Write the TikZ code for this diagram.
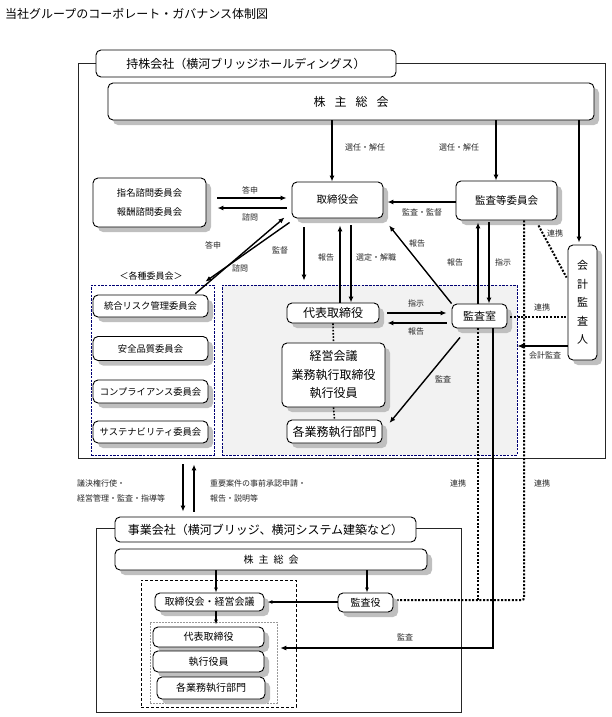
\documentclass[tikz,border=0pt]{standalone}
\usepackage{fontspec}
\newfontfamily\jp{Noto Sans CJK JP}
\usetikzlibrary{arrows.meta,shadows}
\begin{document}
\begin{tikzpicture}[x=1pt,y=-1pt,font=\jp,
  shd/.style={drop shadow={shadow xshift=5pt,shadow yshift=-5pt,fill=black!25,opacity=1}},
  box/.style={draw,line width=0.9pt,rounded corners=5pt,fill=white,align=center,inner sep=0pt,shd},
  tabbox/.style={draw,line width=0.9pt,rounded corners=5pt,fill=white,align=center,inner sep=0pt},
  region/.style={draw=blue!45!black,dash pattern=on 2.5pt off 1.2pt,line width=0.7pt,inner sep=0pt},
  outer/.style={draw=black!85,line width=0.9pt,inner sep=0pt},
  arr/.style={line width=1.4pt,-{Latex[length=6pt,width=5pt]}},
  arrs/.style={line width=1.1pt,-{Latex[length=5pt,width=4pt]}},
  dotl/.style={line width=2pt,dash pattern=on 2pt off 1.6pt},
  dott/.style={line width=1.6pt,dash pattern=on 1.6pt off 1.6pt},
  lbl/.style={font=\fontsize{8}{10}\selectfont\jp,text=black!85,inner sep=0pt},
  f12/.style={font=\fontsize{12}{18.5}\selectfont\jp},
  f11/.style={font=\fontsize{11}{18.5}\selectfont\jp},
  f10/.style={font=\fontsize{10.5}{18}\selectfont\jp},
  f9/.style={font=\fontsize{9.3}{19}\selectfont\jp},
  f10s/.style={font=\fontsize{10}{12}\selectfont\jp}
]
\useasboundingbox (0,0) rectangle (612,717);

% title
\node[anchor=west,inner sep=0pt,font=\fontsize{12}{14}\selectfont\jp] (title) at (5,14) {当社グループのコーポレート・ガバナンス体制図};

% ---------------- holding company ----------------
\node[outer,minimum width=527pt,minimum height=395pt] (holdOuter) at (341.5,260.5) {};
\node[tabbox,f12,minimum width=300pt,minimum height=27pt] (tabH) at (246,63.5) {持株会社（横河ブリッジホールディングス）};
\node[box,f12,minimum width=486pt,minimum height=37pt] (gmsH) at (351,101.5) {株\hspace{9pt}主\hspace{9pt}総\hspace{9pt}会};

\node[region,fill=white,minimum width=123pt,minimum height=170pt] (leftRegion) at (152.5,370) {};
\node[region,fill=black!5,minimum width=295pt,minimum height=170pt] (greyRegion) at (369.5,370) {};

\node[box,f10,minimum width=91pt,minimum height=36pt] (torishimari) at (337.5,200) {取締役会};
\node[box,f10,minimum width=101pt,minimum height=39pt] (kansaIin) at (506.5,200.5) {監査等委員会};
\node[box,f9,minimum width=113pt,minimum height=49pt] (shimon) at (149.5,202.5) {指名諮問委員会\\報酬諮問委員会};
\node[box,f11,minimum width=29pt,minimum height=115pt] (kaikei) at (582.5,302.5) {会\\計\\監\\査\\人};

\node[inner sep=0pt,font=\fontsize{9}{10}\selectfont\jp] (kakushu) at (151,276) {＜各種委員会＞};
\node[box,f9,minimum width=115pt,minimum height=22pt] (risk) at (150.5,306) {統合リスク管理委員会};
\node[box,f9,minimum width=115pt,minimum height=24pt] (anzen) at (150.5,348.5) {安全品質委員会};
\node[box,f9,minimum width=115pt,minimum height=23pt] (comp) at (150.5,391.5) {コンプライアンス委員会};
\node[box,f9,minimum width=115pt,minimum height=22pt] (sust) at (150.5,432) {サステナビリティ委員会};

\node[box,f12,minimum width=92pt,minimum height=20pt] (daihyo) at (333,313) {代表取締役};
\node[box,f12,minimum width=103pt,minimum height=64pt] (keiei) at (333.5,375) {経営会議\\業務執行取締役\\執行役員};
\node[box,f12,minimum width=95pt,minimum height=23pt] (kakugyo) at (334.5,431.5) {各業務執行部門};
\node[box,f11,minimum width=55pt,minimum height=24pt] (kansashitsu) at (479.5,316) {監査室};

% ---------------- operating companies ----------------
\node[outer,minimum width=365pt,minimum height=184pt] (subOuter) at (278.5,620) {};
\node[tabbox,f12,minimum width=301pt,minimum height=25pt] (tabS) at (265.5,529.5) {事業会社（横河ブリッジ、横河システム建築など）};
\node[box,f10s,minimum width=312pt,minimum height=21pt] (gmsS) at (271,559.5) {株\hspace{5pt}主\hspace{5pt}総\hspace{5pt}会};
\node[draw,line width=0.9pt,dash pattern=on 3pt off 2pt,inner sep=0pt,minimum width=155pt,minimum height=127pt] (dashedBig) at (218.5,643.5) {};
\node[box,f10s,minimum width=109pt,minimum height=18pt] (torikei) at (209.5,602) {取締役会・経営会議};
\node[draw=black!40,line width=0.5pt,dash pattern=on 2pt off 1pt,fill=white,inner sep=0pt,minimum width=127pt,minimum height=81pt] (greyInner) at (213.5,662.5) {};
\node[box,f10s,minimum width=111pt,minimum height=20pt] (daihyoS) at (208.5,637) {代表取締役};
\node[box,f10s,minimum width=111pt,minimum height=21pt] (shikkoS) at (208.5,661.5) {執行役員};
\node[box,f10s,minimum width=108pt,minimum height=22pt] (kakugyoS) at (211,688) {各業務執行部門};
\node[box,f10s,minimum width=55pt,minimum height=19pt] (kansayaku) at (365.5,602.5) {監査役};

% ---------------- connectors (holding) ----------------
\draw[arr] (332,0 |- gmsH.south) -- (332,0 |- torishimari.north);
\draw[arr] (496,0 |- gmsH.south) -- (496,0 |- kansaIin.north);
\draw[arr,shorten >=2pt] (579,0 |- gmsH.south) -- (579,0 |- kaikei.north);
\draw[arr,shorten >=4pt] (kansaIin.west |- 0,202) -- (torishimari.east |- 0,202);
\draw[arr,shorten <=11pt,shorten >=5pt] (shimon.east |- 0,198) -- (torishimari.west |- 0,198);
\draw[arr,shorten <=5pt,shorten >=11pt] (torishimari.west |- 0,208) -- (shimon.east |- 0,208);
\draw[arr] ([xshift=-19pt,yshift=-9pt]leftRegion.north east) -- ([xshift=-7pt,yshift=1pt]torishimari.south west);
\draw[arr] ([xshift=-2pt,yshift=-4pt]torishimari.south west) -- ([xshift=-9pt,yshift=3pt]leftRegion.north east);
\draw[arr,shorten <=9pt,shorten >=4pt] (304,0 |- torishimari.south) -- (304,0 |- greyRegion.north);
\draw[arr,shorten >=7pt] (340,0 |- daihyo.north) -- (340,0 |- torishimari.south);
\draw[arr,shorten <=7pt] (351,0 |- torishimari.south) -- (351,0 |- daihyo.north);
\draw[arr,shorten >=9pt] (kansashitsu.north west) -- (torishimari.south east);
\draw[arr,shorten >=2pt] (478,0 |- kansashitsu.north) -- (478,0 |- kansaIin.south);
\draw[arr,shorten <=2pt] (489,0 |- kansaIin.south) -- (489,0 |- kansashitsu.north);
\draw[arr,shorten <=8pt,shorten >=5pt] (daihyo.east |- 0,313) -- (kansashitsu.west |- 0,313);
\draw[arr,shorten <=5pt,shorten >=8pt] (kansashitsu.west |- 0,323) -- (daihyo.east |- 0,323);
\draw[arr] ([xshift=-19.5pt,yshift=-9pt]kansashitsu.south) -- ([xshift=7pt,yshift=8.5pt]kakugyo.east);
\draw[arr] (kaikei.west |- 0,346) -- (greyRegion.east |- 0,346);
\draw[dotl] ([xshift=-19pt,yshift=-5pt]kansaIin.south east) -- ([xshift=-1pt,yshift=-33pt]kaikei.north west);
\draw[dotl,shorten <=3pt] (kansashitsu.east |- 0,317) -- (kaikei.west |- 0,317);
\draw[dott] (daihyo.south) -- (keiei.north);
\draw[dott] (keiei.south) -- (kakugyo.north);

% between companies
\draw[arr,shorten <=6pt,shorten >=5pt] (183,0 |- holdOuter.south) -- (183,0 |- tabS.north);
\draw[arr,shorten <=5pt,shorten >=6pt] (194,0 |- tabS.north) -- (194,0 |- holdOuter.south);

% long connectors
\coordinate (uc) at (524,600);
\draw[dotl,rounded corners=2pt,shorten >=4pt] (524,0 |- kansaIin.south) -- (uc) -- (kansayaku.east |- uc);
\draw[dotl] (478,0 |- kansashitsu.south) -- (478,0 |- uc);
\coordinate (wc) at (493,648);
\draw[arr,shorten >=3pt] (493,0 |- kansashitsu.south) -- (wc) -- (greyInner.east |- wc);

% lower connectors
\draw[arrs] (216,0 |- gmsS.south) -- (216,0 |- torikei.north);
\draw[arrs,shorten >=2pt] (216,0 |- torikei.south) -- (216,0 |- daihyoS.north);
\draw[arrs] (367,0 |- gmsS.south) -- (367,0 |- kansayaku.north);
\draw[arrs,shorten >=3pt] (kansayaku.west |- 0,602) -- (torikei.east |- 0,602);

% ---------------- labels ----------------
\node[lbl] (l1) at (365,147) {選任・解任};
\node[lbl] (l2) at (459,147) {選任・解任};
\node[lbl] (l3) at (250,190) {答申};
\node[lbl] (l4) at (250,217) {諮問};
\node[lbl] (l5) at (213,245) {答申};
\node[lbl] (l6) at (280,250) {監督};
\node[lbl] (l7) at (240,268) {諮問};
\node[lbl] (l8) at (326,257) {報告};
\node[lbl] (l9) at (376,257) {選定・解職};
\node[lbl] (l10) at (422,212) {監査・監督};
\node[lbl] (l11) at (417,243) {報告};
\node[lbl] (l12) at (455,262) {報告};
\node[lbl] (l13) at (503,262) {指示};
\node[lbl] (l14) at (555,233) {連携};
\node[lbl] (l15) at (416,303) {指示};
\node[lbl] (l16) at (416,331) {報告};
\node[lbl] (l17) at (542,307) {連携};
\node[lbl] (l18) at (545,355) {会計監査};
\node[lbl] (l19) at (443,379) {監査};
\node[lbl] (l20) at (458,483) {連携};
\node[lbl] (l21) at (542,483) {連携};
\node[lbl] (l22) at (405,637) {監査};
\node[lbl,anchor=west] (l23) at (77,483) {議決権行使・};
\node[lbl,anchor=west] (l24) at (77,498) {経営管理・監査・指導等};
\node[lbl,anchor=west] (l25) at (210,483) {重要案件の事前承認申請・};
\node[lbl,anchor=west] (l26) at (210,498) {報告・説明等};
\end{tikzpicture}
\end{document}
